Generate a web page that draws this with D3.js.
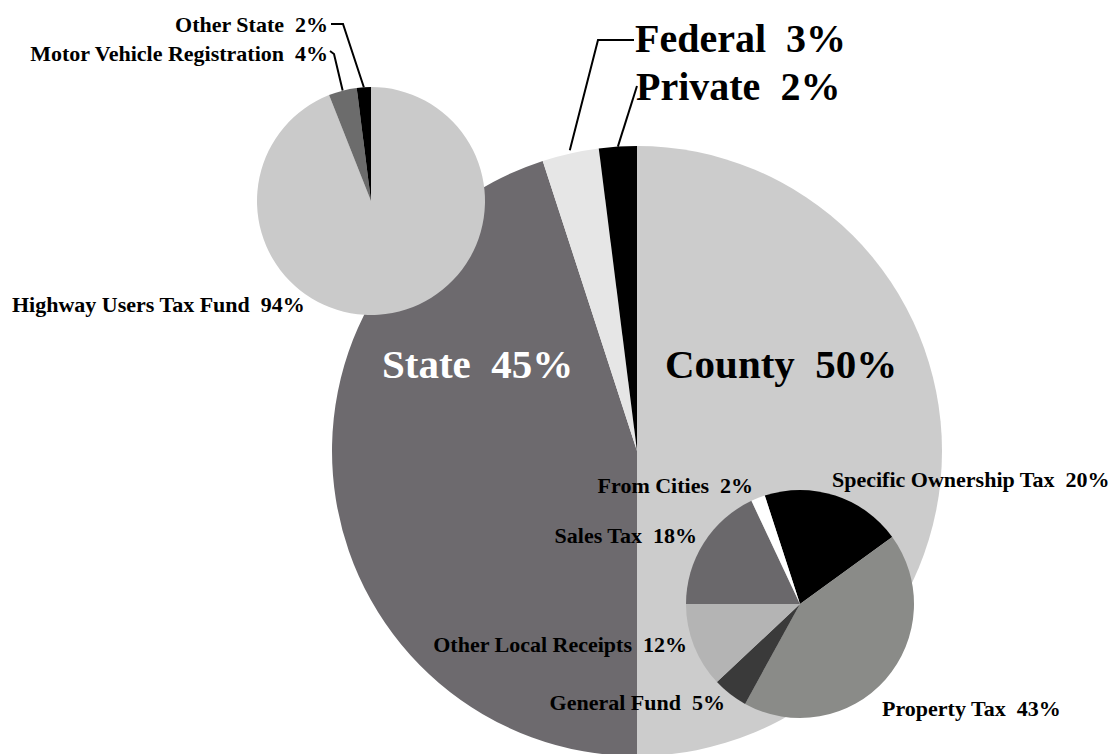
<!DOCTYPE html>
<html>
<head>
<meta charset="utf-8">
<script src="https://cdn.jsdelivr.net/npm/d3@7"></script>
<style>
  body { margin: 0; background: #fff; }
  text { font-family: "Liberation Serif", "Times New Roman", serif; font-weight: bold; white-space: pre; }
</style>
</head>
<body>
<div id="chart"></div>
<script>
// Data
const mainLabels = ["County", "State", "Federal", "Private"]
const mainValues = [50, 45, 3, 2]

const stateLabels = ["Highway Users Tax Fund", "Motor Vehicle Registration", "Other State"]
const stateValues = [94, 4, 2]

const countyLabels = ["Specific Ownership Tax", "Property Tax", "General Fund", "Other Local Receipts", "Sales Tax", "From Cities"]
const countyValues = [20, 43, 5, 12, 18, 2]

// Dimensions
const width = 1115
const height = 754

const svg = d3.select('#chart')
  .append('svg')
  .attr('width', width)
  .attr('height', height)

const deg = Math.PI / 180

// one pie chart, returns arcs data so labels can hook onto it
function drawPie(cx, cy, r, labels, values, colors, startDeg) {
  const pie = d3.pie()
    .sort(null)
    .value(d => d.value)
    .startAngle(startDeg * deg)
    .endAngle((startDeg + 360) * deg)

  const arcs = pie(labels.map((l, i) => ({ label: l, value: values[i] })))

  const arc = d3.arc().innerRadius(0).outerRadius(r)

  const g = svg.append('g')
    .attr('transform', `translate(${cx}, ${cy})`)

  g.selectAll('path')
    .data(arcs)
    .join('path')
    .attr('d', arc)
    .attr('fill', (d, i) => colors[i])

  return { arcs, cx, cy, r }
}

function edgePoint(p, i, k = 1) {
  const a = (p.arcs[i].startAngle + p.arcs[i].endAngle) / 2
  const [x, y] = d3.pointRadial(a, p.r * k)
  return [p.cx + x, p.cy + y]
}

function label(x, y, txt, size, anchor, fill = '#000') {
  svg.append('text')
    .attr('x', x)
    .attr('y', y)
    .attr('font-size', size)
    .attr('text-anchor', anchor)
    .attr('fill', fill)
    .text(txt)
}

function leader(points) {
  svg.append('path')
    .attr('d', d3.line()(points))
    .attr('fill', 'none')
    .attr('stroke', '#000')
    .attr('stroke-width', 2)
}

// main pie
const main = drawPie(637, 451, 305, mainLabels, mainValues,
  ['#cccccc', '#6d6a6e', '#e6e6e6', '#000000'], 0)

// state breakdown (top left)
const state = drawPie(371, 201, 114, stateLabels, stateValues,
  ['#cacaca', '#6c6c6c', '#000000'], 0)

// county breakdown (bottom right)
const county = drawPie(800, 604, 114, countyLabels, countyValues,
  ['#000000', '#8a8b88', '#3a3a3a', '#b4b4b4', '#6a686b', '#ffffff'], -18)

const big = 41
const mid = 40
const small = 22
const pct = (labels, values, i) => `${labels[i]}  ${values[i]}%`

// main labels
label(382, 378, pct(mainLabels, mainValues, 1), big, 'start', '#fff')
label(665, 378, pct(mainLabels, mainValues, 0), big, 'start')
label(635, 52, pct(mainLabels, mainValues, 2), mid, 'start')
label(636, 100, pct(mainLabels, mainValues, 3), mid, 'start')

leader([[634, 40], [598, 40], edgePoint(main, 2, 1.01)])
leader([[637, 86], edgePoint(main, 3, 1.0)])

// state labels
label(328, 32, pct(stateLabels, stateValues, 2), small, 'end')
label(328, 61, pct(stateLabels, stateValues, 1), small, 'end')
label(12, 312, pct(stateLabels, stateValues, 0), small, 'start')

leader([[331, 24], [343, 24], edgePoint(state, 2, 1.0)])
leader([[330, 51], [334, 54], edgePoint(state, 1, 1.0)])

// county labels
label(832, 487, pct(countyLabels, countyValues, 0), small, 'start')
label(882, 716, pct(countyLabels, countyValues, 1), small, 'start')
label(725, 710, pct(countyLabels, countyValues, 2), small, 'end')
label(687, 652, pct(countyLabels, countyValues, 3), small, 'end')
label(697, 543, pct(countyLabels, countyValues, 4), small, 'end')
label(753, 493, pct(countyLabels, countyValues, 5), small, 'end')
</script>
</body>
</html>
